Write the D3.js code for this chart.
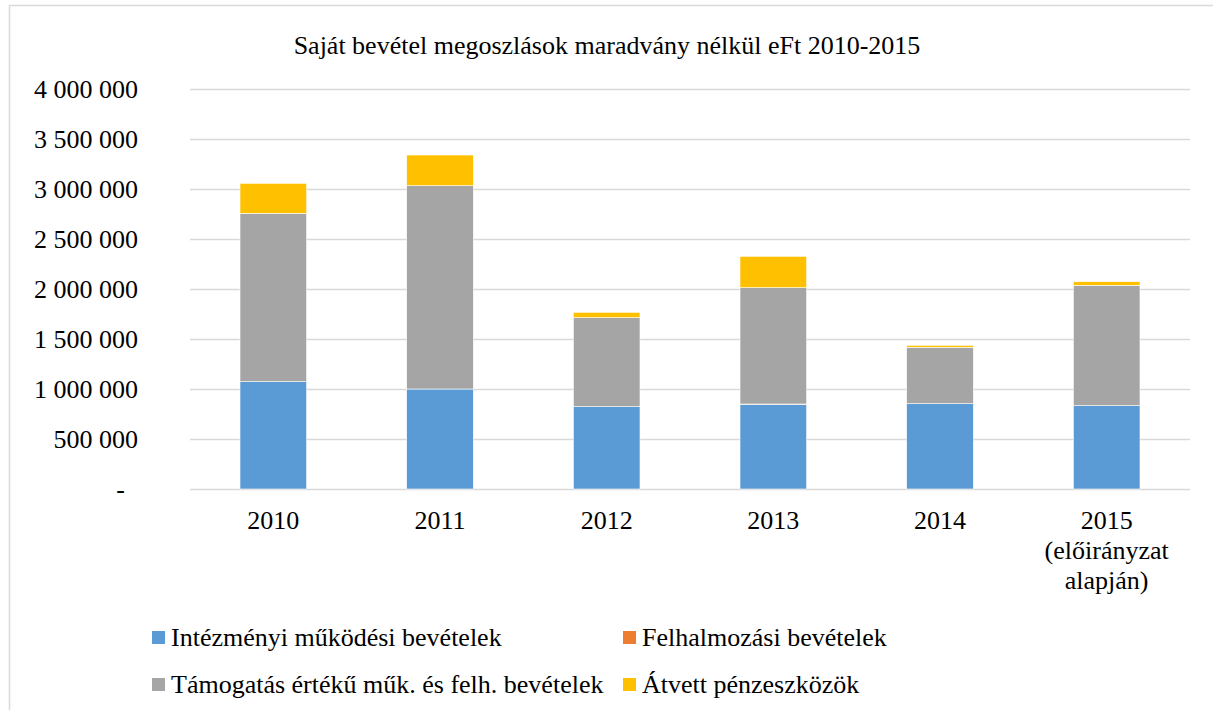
<!DOCTYPE html>
<html>
<head>
<meta charset="utf-8">
<script src="https://cdn.jsdelivr.net/npm/d3@7"></script>
<style>
  body { margin: 0; background: #fff; }
</style>
</head>
<body>
<script>
// categories (x axis), each may have several lines
var years = [["2010"], ["2011"], ["2012"], ["2013"], ["2014"], ["2015", "(előirányzat", "alapján)"]];
var yearKeys = ["2010", "2011", "2012", "2013", "2014", "2015"];

// series, eFt
var seriesNames = ["Intézményi működési bevételek", "Felhalmozási bevételek", "Támogatás értékű műk. és felh. bevételek", "Átvett pénzeszközök"];
var intezmenyi = [1073000, 1000000, 823000, 847000, 853000, 833000];
var felhalmozasi = [0, 0, 0, 3000, 0, 0];
var tamogatas = [1684000, 2033000, 890000, 1163000, 564000, 1204000];
var atvett = [300000, 307000, 54000, 314000, 20000, 36000];
var colors = ["#5B9BD5", "#ED7D31", "#A5A5A5", "#FFC000"];

var yTicks = [0, 500000, 1000000, 1500000, 2000000, 2500000, 3000000, 3500000, 4000000];

var w = 1213, h = 710;
var plotLeft = 190, plotRight = 1190, plotTop = 89, plotBottom = 489;
var serif = "'Liberation Serif', 'Times New Roman', serif";
var fs = 26;

var table = yearKeys.map(function(y, i) {
  return { year: y, s0: intezmenyi[i], s1: felhalmozasi[i], s2: tamogatas[i], s3: atvett[i] };
});
var stack = d3.stack().keys(["s0", "s1", "s2", "s3"])(table);

var xScale = d3.scaleBand().domain(yearKeys).range([plotLeft, plotRight]).paddingInner(0.6).paddingOuter(0.3);
var yScale = d3.scaleLinear().domain([0, 4000000]).range([plotBottom, plotTop]);

var svg = d3.select("body").append("svg")
  .attr("width", w).attr("height", h)
  .attr("font-family", serif);

// chart border
svg.append("rect")
  .attr("x", 9.5).attr("y", 5.5).attr("width", 1300).attr("height", 800)
  .attr("fill", "none").attr("stroke", "#d9d9d9").attr("stroke-width", 1.5);

// title
svg.append("text")
  .attr("x", 607).attr("y", 54)
  .attr("text-anchor", "middle")
  .attr("font-family", serif)
  .attr("font-size", fs)
  .text("Saját bevétel megoszlások maradvány nélkül eFt 2010-2015");

// gridlines + y labels
var fmt = function(d) { return d === 0 ? "-" : d3.format(",")(d).replace(/,/g, " "); };
var yAxis = d3.axisLeft(yScale).tickValues(yTicks).tickSize(plotLeft - plotRight).tickFormat(fmt).tickPadding(52);
var gy = svg.append("g").attr("transform", "translate(" + plotLeft + ",0)").call(yAxis);
gy.attr("font-family", serif).attr("font-size", fs);
gy.select(".domain").remove();
gy.selectAll(".tick line").attr("stroke", "#d9d9d9").attr("stroke-width", 1.5);
gy.selectAll(".tick text")
  .attr("fill", "#000")
  .attr("dx", function(d) { return d === 0 ? -13 : 0; });

// bars
svg.append("g").selectAll("g")
  .data(stack)
  .enter().append("g")
  .attr("fill", function(d, i) { return colors[i]; })
  .selectAll("rect")
  .data(function(d) { return d; })
  .enter().append("rect")
  .attr("x", function(d) { return xScale(d.data.year); })
  .attr("y", function(d) { return yScale(d[1]); })
  .attr("width", xScale.bandwidth())
  .attr("height", function(d) { return yScale(d[0]) - yScale(d[1]); })
  .attr("stroke", "#fff").attr("stroke-width", 0.6);

// x labels
var xl = svg.append("g").selectAll("text")
  .data(years)
  .enter().append("text")
  .attr("text-anchor", "middle")
  .attr("font-family", serif)
  .attr("font-size", fs)
  .attr("x", function(d, i) { return xScale(yearKeys[i]) + xScale.bandwidth() / 2; })
  .attr("y", 529);
xl.selectAll("tspan")
  .data(function(d) { return d; })
  .enter().append("tspan")
  .attr("x", function() { return d3.select(this.parentNode).attr("x"); })
  .attr("dy", function(d, i) { return i === 0 ? 0 : 30; })
  .text(function(d) { return d; });

// legend
var legendPos = [[152, 637], [623, 637], [152, 684], [623, 684]];
var lg = svg.append("g").selectAll("g")
  .data(seriesNames)
  .enter().append("g")
  .attr("transform", function(d, i) { return "translate(" + legendPos[i][0] + "," + legendPos[i][1] + ")"; });
lg.append("rect").attr("x", 0).attr("y", -6).attr("width", 13).attr("height", 13)
  .attr("fill", function(d, i) { return colors[i]; });
lg.append("text").attr("x", 19).attr("y", 9)
  .attr("font-family", serif)
  .attr("font-size", fs)
  .text(function(d) { return d; });
</script>
</body>
</html>
